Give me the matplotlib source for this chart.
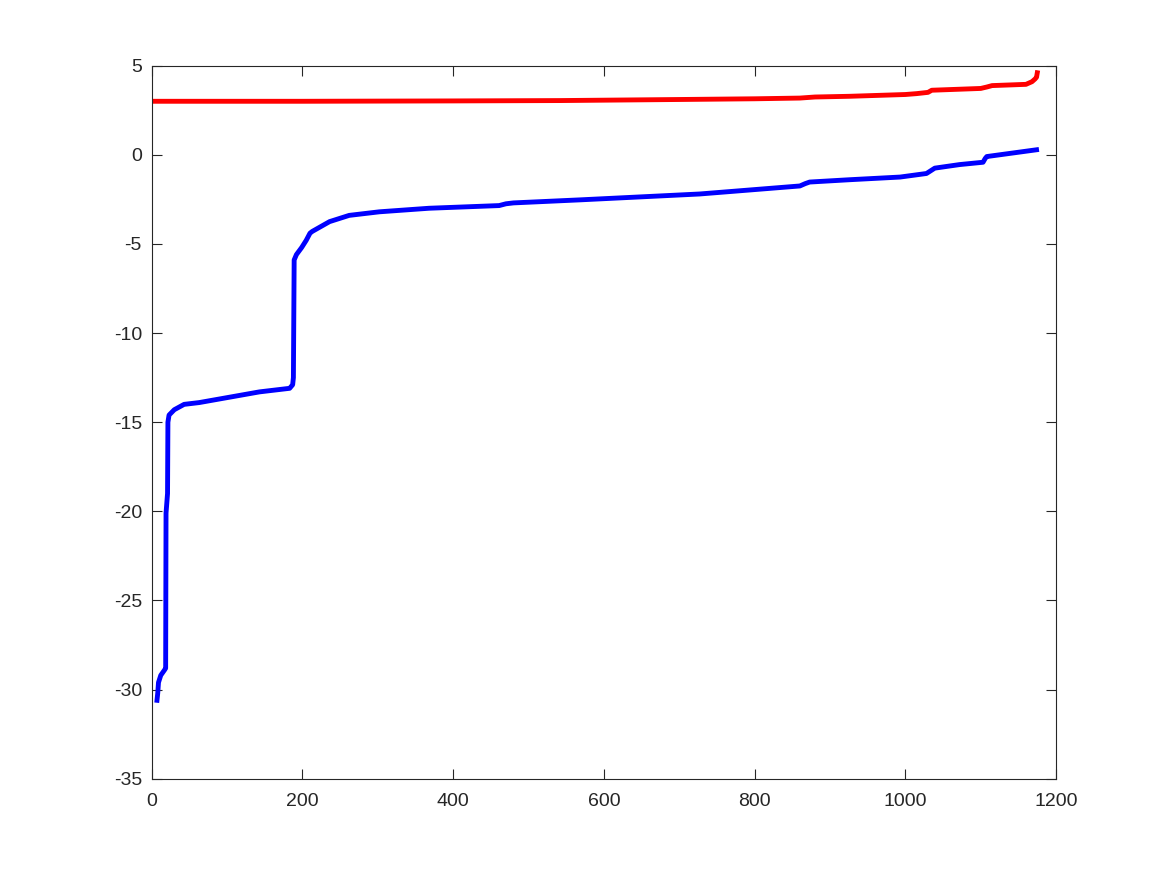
import numpy as np
from matplotlib import pyplot as plt

plt.rcParams['font.family'] = ['Liberation Sans', 'DejaVu Sans']
plt.rcParams['axes.unicode_minus'] = False

# blue curve (sorted values)
blue_x = [7, 8, 9, 12, 17, 18.5, 19, 21, 21.5, 23, 30, 43, 63, 103, 143, 183, 187,
          188, 189, 192, 199, 205, 210, 213, 236, 262, 302, 368, 461, 470, 480,
          568, 727, 860, 867, 873, 926, 993, 1028, 1039, 1072, 1103, 1106, 1108, 1174]
blue_y = [-30.6, -30.2, -29.6, -29.2, -28.9, -28.8, -20.1, -19.0, -15.0, -14.6,
          -14.3, -14.0, -13.9, -13.6, -13.3, -13.1, -12.9, -12.5, -5.9, -5.6,
          -5.2, -4.8, -4.4, -4.3, -3.75, -3.4, -3.2, -3.0, -2.85, -2.75, -2.7,
          -2.53, -2.2, -1.75, -1.62, -1.53, -1.4, -1.25, -1.05, -0.75, -0.55,
          -0.42, -0.2, -0.1, 0.28]

# red curve
red_x = [1, 200, 400, 541, 700, 800, 860, 880, 926, 1000, 1015, 1030, 1035,
         1100, 1108, 1115, 1160, 1168, 1172, 1174, 1175]
red_y = [3.0, 3.0, 3.02, 3.04, 3.1, 3.14, 3.18, 3.24, 3.28, 3.38, 3.43, 3.5,
         3.62, 3.72, 3.8, 3.88, 3.95, 4.1, 4.25, 4.35, 4.6]

fig = plt.figure(figsize=(11.67, 8.75), dpi=100)
ax = fig.add_axes([0.13, 0.11, 0.775, 0.815])
ax.plot(red_x, red_y, color=(1, 0, 0), linewidth=3.5)
ax.plot(blue_x, blue_y, color=(0, 0, 1), linewidth=3.5)

ax.set_xlim(0, 1200)
ax.set_ylim(-35, 5)
ax.set_xticks(np.arange(0, 1201, 200))
ax.set_yticks(np.arange(-35, 6, 5))

dark = (0.15, 0.15, 0.15)
for s in ax.spines.values():
    s.set_color(dark)
    s.set_linewidth(0.8)
ax.tick_params(direction='in', length=7, width=0.8, colors=dark,
               top=True, right=True, labelsize=14)
ax.tick_params(axis='x', pad=10)
ax.tick_params(axis='y', pad=7)

fig.savefig('out.png', dpi=100, facecolor='white')
